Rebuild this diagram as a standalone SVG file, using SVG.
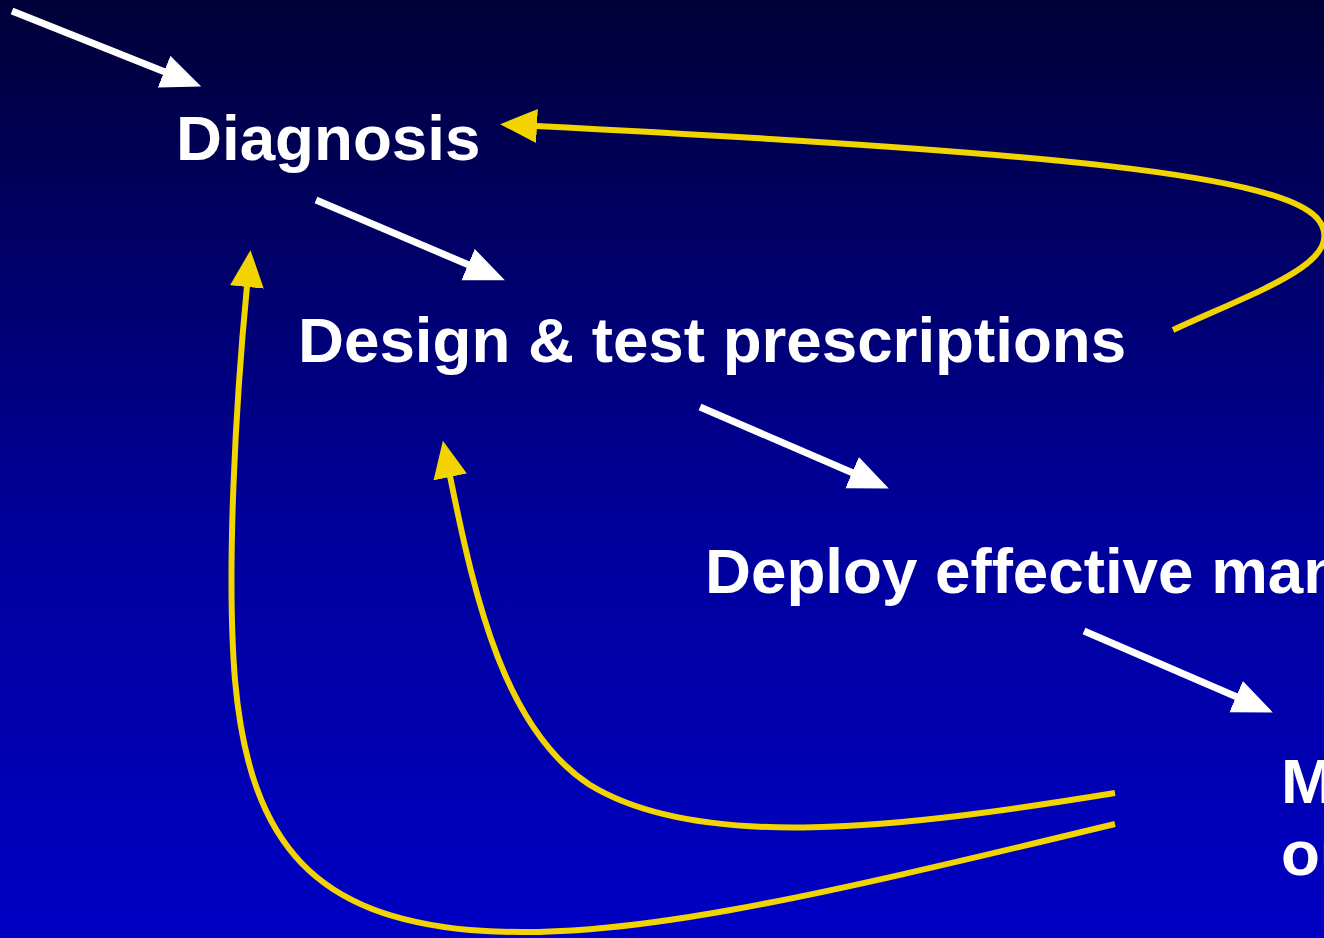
<svg xmlns="http://www.w3.org/2000/svg" width="1324" height="938" viewBox="0 0 1324 938">
<defs>
<linearGradient id="bg" x1="0" y1="0" x2="0" y2="1">
<stop offset="0" stop-color="#000038"/>
<stop offset="0.55" stop-color="#00009A"/>
<stop offset="1" stop-color="#0000C4"/>
</linearGradient>
<marker id="wh" markerUnits="userSpaceOnUse" markerWidth="44" markerHeight="40" refX="1" refY="17" orient="auto" viewBox="0 0 44 40">
<path d="M0,0 L40,17 L0,34 Z" fill="#FFFFFF"/>
</marker>
<marker id="yh" markerUnits="userSpaceOnUse" markerWidth="44" markerHeight="40" refX="1" refY="17" orient="auto" viewBox="0 0 44 40">
<path d="M0,0 L37,17 L0,34 Z" fill="#F2D500"/>
</marker>
<style>
.lbl{font-family:"Liberation Sans",Arial,sans-serif;font-weight:bold;font-size:63.7px;fill:#FFFFFF}
.w{stroke:#FFFFFF;stroke-width:7;fill:none}
.y{stroke:#F2D500;stroke-width:6;fill:none}
</style>
</defs>
<rect x="0" y="0" width="1324" height="938" fill="url(#bg)"/>
<g id="connectors">
<path class="w" d="M12,11 L165,72" marker-end="url(#wh)"/>
<path class="w" d="M316,200 L469,265" marker-end="url(#wh)"/>
<path class="w" d="M700,407 L853,473" marker-end="url(#wh)"/>
<path class="w" d="M1084,631 L1237,697" marker-end="url(#wh)"/>
<path class="y" d="M1173,330 C1260,290 1345,262 1320,222 C1290,175 1050,152 536,126" marker-end="url(#yh)"/>
<path class="y" d="M1115,793 C900,828 700,852 590,785 C505,730 475,600 450,476" marker-end="url(#yh)"/>
<path class="y" d="M1115,824 C800,900 620,942 470,930 C320,916 250,850 235,680 C226,570 236,400 247,286" marker-end="url(#yh)"/>
</g>
<g id="node-diagnosis"><text class="lbl" x="176" y="160">Diagnosis</text></g>
<g id="node-design"><text class="lbl" x="298" y="362">Design &amp; test prescriptions</text></g>
<g id="node-deploy"><text class="lbl" x="705" y="593">Deploy effective man</text></g>
<g id="node-monitor"><text class="lbl" x="1281" y="803">M</text><text class="lbl" x="1281" y="875">ou</text></g>
</svg>
